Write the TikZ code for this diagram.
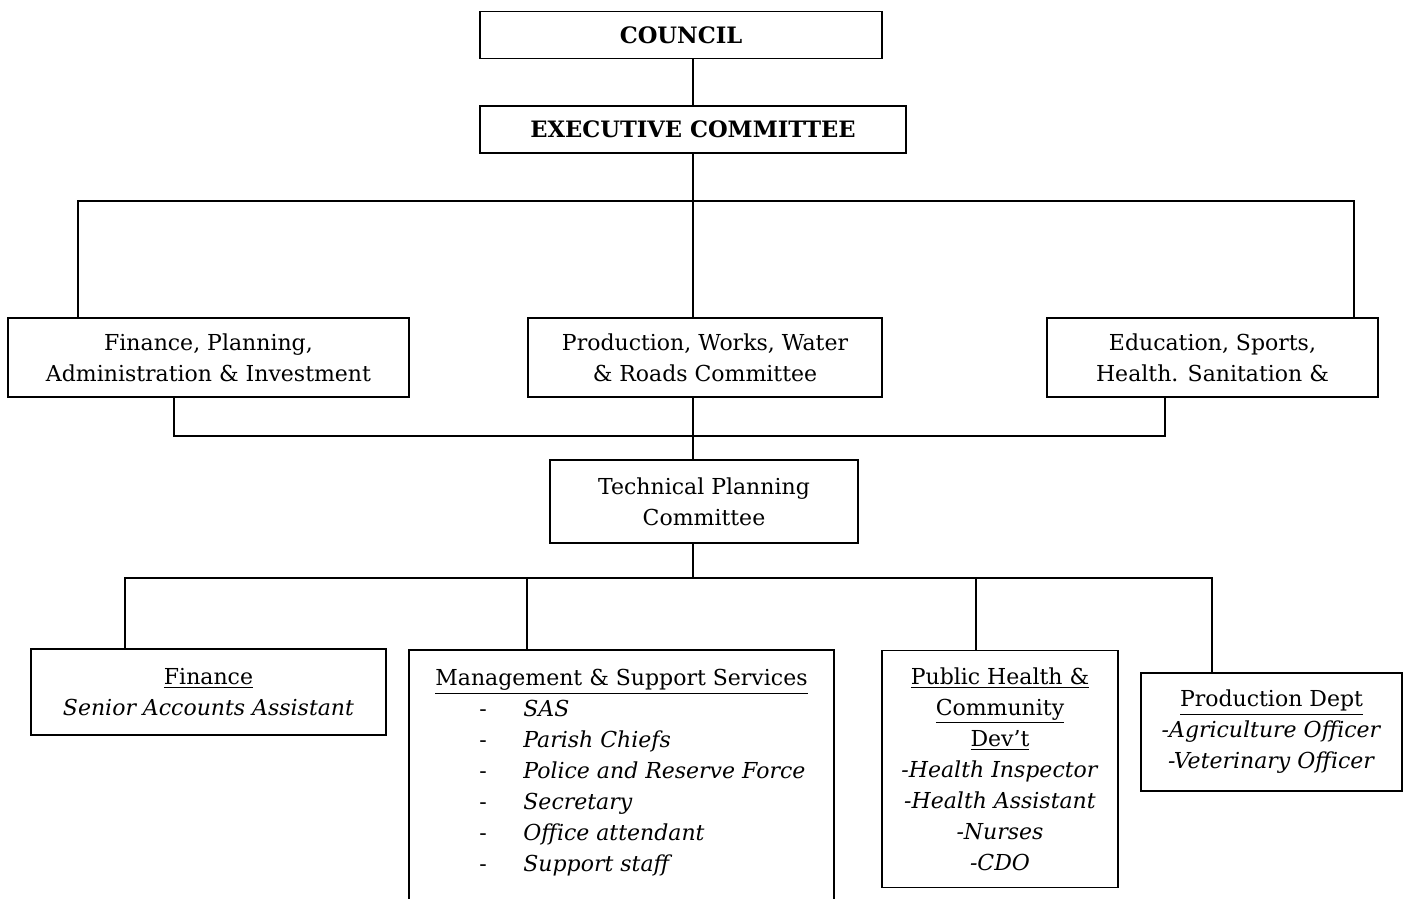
\documentclass[tikz,border=0pt]{standalone}
\usepackage{fontspec}
\setmainfont{DejaVu Serif}
\usetikzlibrary{positioning}

\begin{document}
\begin{tikzpicture}[
  x=0.5pt, y=-0.5pt,
  font=\fontsize{11}{15.5}\selectfont,
  orgbox/.style={draw, line width=0.9pt, align=center, inner sep=0pt},
  topbox/.style={orgbox, font=\fontsize{11.3}{15.5}\selectfont\bfseries, minimum height=23.5pt, text depth=0pt},
  combox/.style={orgbox, minimum height=39.5pt},
  deptbox/.style={orgbox},
  link/.style={line width=0.9pt}
]
\useasboundingbox (0,0) rectangle (1408,899);

\node[topbox, minimum width=201pt] (council) at (681,35) {COUNCIL};
\node[topbox, minimum width=213pt] (exec) at (693,129.5) {EXECUTIVE COMMITTEE};

\node[combox, minimum width=200.5pt] (fincom) at (208.5,357.5) {Finance, Planning,\\Administration \& Investment};
\node[combox, minimum width=177pt] (prodcom) at (705,357.5) {Production, Works, Water\\\& Roads Committee};
\node[combox, minimum width=165.5pt] (educom) at (1212.5,357.5) {Education, Sports,\\Health. Sanitation \&};

\node[orgbox, minimum width=154pt, minimum height=41.5pt] (tpc) at (704,501.5) {Technical Planning\\Committee};

\node[deptbox, minimum width=177.5pt, minimum height=43pt] (finance) at (208.5,692) {\underline{Finance}\\\textit{Senior Accounts Assistant}};
\node[deptbox, minimum width=212.5pt, anchor=north, align=left, inner ysep=9.5pt] (mgmt) at (621.5,649) {%
  \underline{Management \& Support Services}\\
  \hspace*{22pt}\makebox[22pt][l]{-}\textit{SAS}\\
  \hspace*{22pt}\makebox[22pt][l]{-}\textit{Parish Chiefs}\\
  \hspace*{22pt}\makebox[22pt][l]{-}\textit{Police and Reserve Force}\\
  \hspace*{22pt}\makebox[22pt][l]{-}\textit{Secretary}\\
  \hspace*{22pt}\makebox[22pt][l]{-}\textit{Office attendant}\\
  \hspace*{22pt}\makebox[22pt][l]{-}\textit{Support staff}\\
  \mbox{}\\ \mbox{}};
\node[deptbox, minimum width=118pt, minimum height=118.5pt] (pubhealth) at (1000,769) {\underline{Public Health \&}\\\underline{Community}\\\underline{Dev’t}\\\textit{-Health Inspector}\\\textit{-Health Assistant}\\\textit{-Nurses}\\\textit{-CDO}};
\node[deptbox, minimum width=130.5pt, minimum height=59pt] (proddept) at (1271.5,732) {\underline{Production Dept}\\\textit{-Agriculture Officer}\\\textit{-Veterinary Officer}};

\coordinate (busTopL) at (78,201);
\coordinate (busTopR) at (1354,201);
\coordinate (busMidL) at (174,436);
\coordinate (busMidR) at (1165,436);
\coordinate (busLowL) at (125,578);
\coordinate (busLowR) at (1212,578);
\coordinate (tapMgmt) at (527,578);
\coordinate (tapHealth) at (976,578);

\draw[link] (council.south -| exec.north) -- (exec.north);
\draw[link] (exec.south) -- (prodcom.north -| exec.south);
\draw[link] (busTopL |- fincom.north) -- (busTopL) -- (busTopR) -- (busTopR |- educom.north);
\draw[link] (fincom.south -| busMidL) -- (busMidL) -- (busMidR) -- (educom.south -| busMidR);
\draw[link] (prodcom.south -| exec.south) -- (tpc.north -| exec.south);
\draw[link] (tpc.south -| exec.south) -- (busLowL -| exec.south);
\draw[link] (finance.north -| busLowL) -- (busLowL) -- (busLowR) -- (busLowR |- proddept.north);
\draw[link] (tapMgmt) -- (tapMgmt |- mgmt.north);
\draw[link] (tapHealth) -- (tapHealth |- pubhealth.north);
\end{tikzpicture}
\end{document}
